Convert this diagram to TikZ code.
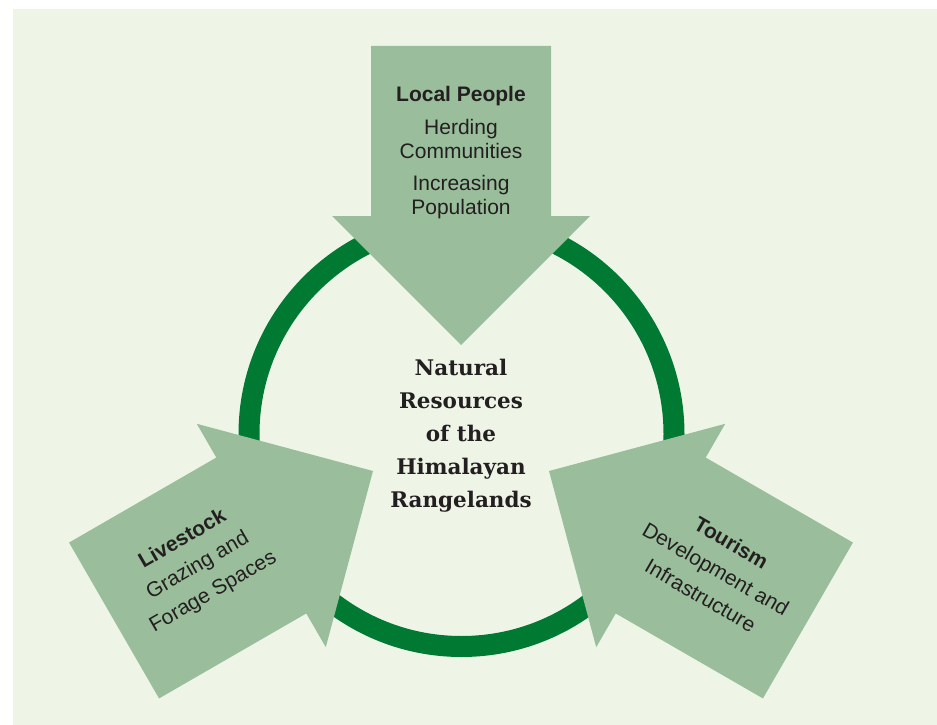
\documentclass[tikz,border=0pt]{standalone}
\usepackage{xcolor}
\usepackage{fontspec}
\setsansfont{Liberation Sans}
\newfontfamily\headfont{DejaVu Serif}
\usepackage{tikz}
\definecolor{panelgreen}{RGB}{238,245,231}
\definecolor{ringgreen}{RGB}{0,122,51}
\definecolor{arrowgreen}{RGB}{154,190,155}
\definecolor{textgray}{RGB}{35,31,32}
\tikzset{
  blockarrow/.style={fill=arrowgreen},
  arrowtext/.style={text=textgray, align=center, inner sep=0pt,
    font=\sffamily\fontsize{21}{24}\selectfont},
  sidetext/.style={arrowtext, font=\sffamily\fontsize{21}{30.5}\selectfont}
}

\begin{document}
\begin{tikzpicture}[x=1pt,y=-1pt]
      \useasboundingbox (0,0) rectangle (937,725);
      \fill[panelgreen] (13,9) rectangle (937,725);
      \draw[ringgreen, line width=21pt] (461.5,434) circle[radius=212.5pt];
      % block arrows: tip, direction
      \foreach \tx/\ty/\ang in {461/345/-90, 373/471/30, 549/471/150}{
        \begin{scope}[shift={(\tx,\ty)}, rotate=\ang]
          \fill[blockarrow] (0,0) -- (-129,129) -- (-129,90) -- (-299,90)
            -- (-299,-90) -- (-129,-90) -- (-129,-129) -- cycle;
        \end{scope}
      }
      \node[arrowtext, anchor=north] (people) at (461,86)
        {\textbf{Local People}\\[9pt]Herding\\Communities\\[8pt]Increasing\\Population};
      \node[sidetext, rotate=30] (livestock) at (198,566)
        {\textbf{Livestock}\\Grazing and\\Forage Spaces};
      \node[sidetext, rotate=-30] (tourism) at (716,569)
        {\textbf{Tourism}\\Development and\\Infrastructure};
      \node[text=textgray, align=center, inner sep=0pt, anchor=north,
        font=\headfont\bfseries\fontsize{21.5}{33}\selectfont] (resources) at (461,359)
        {Natural\\Resources\\of the\\Himalayan\\Rangelands};
\end{tikzpicture}
\end{document}
